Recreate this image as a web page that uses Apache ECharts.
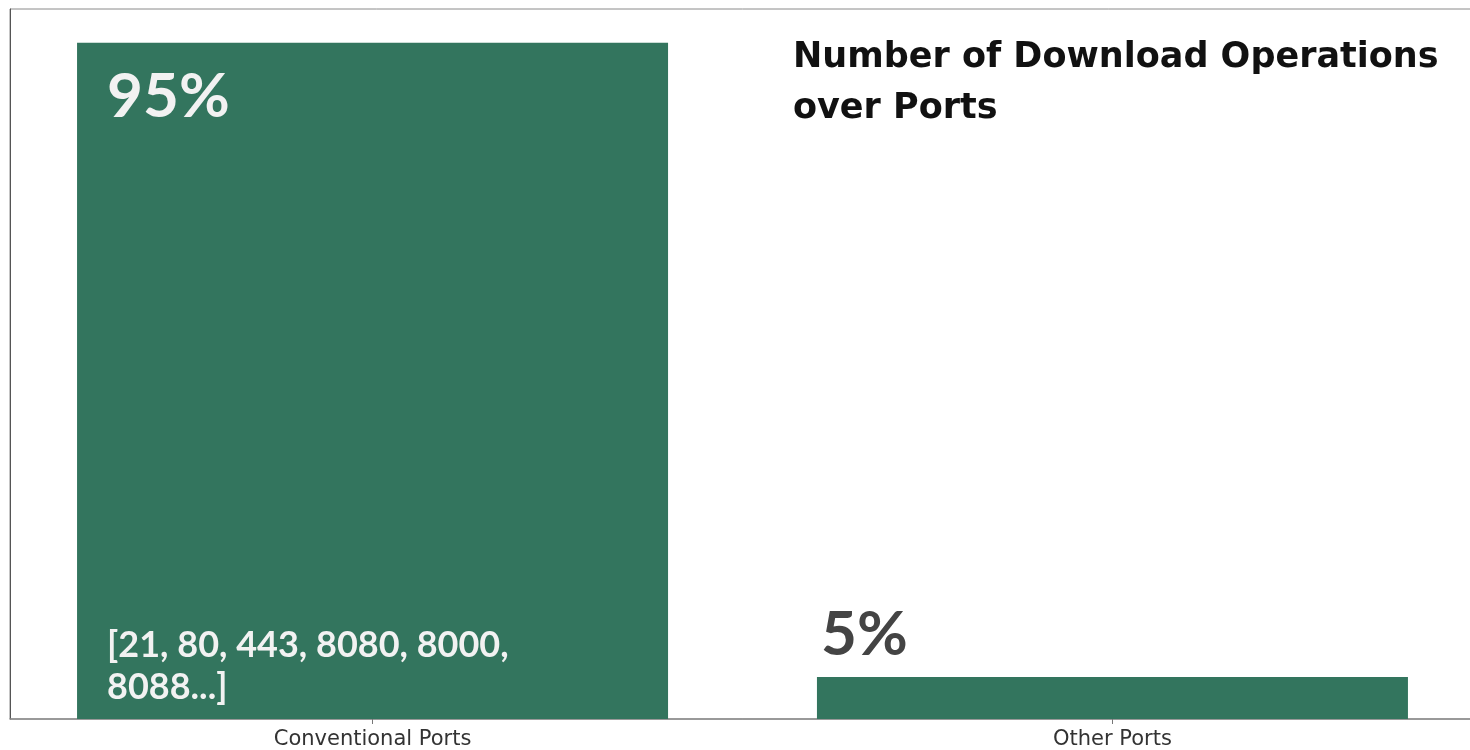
<!DOCTYPE html>
<html>
<head>
<meta charset="utf-8">
<script src="https://cdn.jsdelivr.net/npm/echarts@6/dist/echarts.min.js"></script>
<style>
html,body{margin:0;padding:0;background:#fff;overflow:hidden;}
#chart{width:1480px;height:750px;}
</style>
</head>
<body>
<div id="chart"></div>
<script>
const categories = ['Conventional Ports', 'Other Ports'];
const shares = [95, 5.9];
const shareLabels = ['95%', '5%'];
const portListLabel = '[21, 80, 443, 8080, 8000,\n8088...]';
const titleText = 'Number of Download Operations\nover Ports';

const barColor = '#33755e';

const chart = echarts.init(document.getElementById('chart'), null, {renderer: 'canvas'});

const mainData = shares.map((v, i) => ({
  value: [i, v],
  label: i === 0 ? {
    show: true, formatter: shareLabels[i], position: [30, 23],
    color: '#f2f2f2', fontFamily: 'Lato', fontWeight: 'bold', fontSize: 62
  } : {
    show: true, formatter: shareLabels[i], position: [4, -73],
    color: '#444444', fontFamily: 'Lato', fontWeight: 'bold', fontSize: 62
  }
}));

const listData = shares.map((v, i) => ({
  value: [i, v],
  label: i === 0 ? {
    show: true, formatter: portListLabel, position: 'insideBottomLeft',
    distance: 0,
    padding: [0, 0, 11, 30],
    color: '#f2f2f2', fontFamily: 'Lato', fontWeight: 'bold', fontSize: 36, lineHeight: 42
  } : {show: false}
}));

chart.setOption({
  animation: false,
  backgroundColor: '#ffffff',
  title: {
    text: titleText, left: 793, top: 32, padding: 0,
    textStyle: {fontFamily: 'DejaVu Sans', fontWeight: 'bold', fontSize: 35, lineHeight: 51, color: '#111'}
  },
  grid: {
    left: 10, top: 9, width: 1465, height: 711,
    show: true, borderColor: '#8a8a8a', borderWidth: 1
  },
  xAxis: {
    type: 'value', min: -0.49, max: 1.49,
    splitLine: {show: false},
    axisLine: {show: true, onZero: false, lineStyle: {color: '#8a8a8a', width: 1.5}},
    axisTick: {show: true, customValues: [0, 1], length: 5, lineStyle: {color: '#777'}},
    axisLabel: {
      show: true, customValues: [0, 1], margin: 10,
      formatter: v => categories[Math.round(v)] || '',
      fontFamily: 'DejaVu Sans', fontSize: 21, color: '#333'
    }
  },
  yAxis: {
    type: 'value', min: 0, max: 99.75,
    splitLine: {show: false},
    axisLine: {show: true, onZero: false, lineStyle: {color: '#555', width: 1}},
    axisTick: {show: false},
    axisLabel: {show: false}
  },
  series: [
    {
      type: 'bar', data: mainData, barWidth: 591, barGap: '-100%',
      itemStyle: {color: barColor}
    },
    {
      type: 'bar', data: listData, barWidth: 591, barGap: '-100%',
      itemStyle: {color: 'rgba(0,0,0,0)'}, silent: true
    }
  ]
});
</script>
</body>
</html>
